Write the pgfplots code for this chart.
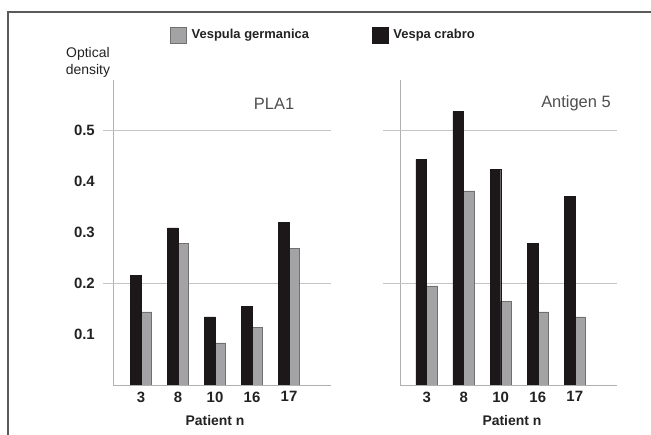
\documentclass[border=0pt]{standalone}
\usepackage{pgfplots}
\pgfplotsset{compat=1.18}
\usepackage{fontspec}
\setmainfont{Liberation Sans}
\definecolor{darkbar}{HTML}{1C1819}
\definecolor{graybar}{HTML}{A3A3A6}
\definecolor{grayedge}{HTML}{707070}
\definecolor{gridgray}{HTML}{C4C4C4}
\definecolor{axisgray}{HTML}{B0B0B0}
\definecolor{framegray}{HTML}{5A5A5A}
\definecolor{txt}{HTML}{222222}
\begin{document}
\begin{tikzpicture}
\path[use as bounding box] (0bp,0bp) rectangle (651bp,435bp);
\draw[framegray, line width=1.6bp] (8bp,0bp) -- (8bp,423bp) -- (651bp,423bp);
\pgfplotsset{
  panel/.style={
    scale only axis, height=305bp, ymin=0, ymax=0.6,
    axis x line*=bottom, axis y line*=left,
    axis line style={draw=axisgray, line width=0.8bp, -},
    xtick={0,1,2,3,4}, xticklabels={3,8,10,16,17},
    major tick length=0pt,
    ybar, bar width=10.7bp,
    xticklabel style={font=\fontsize{15}{17}\selectfont\bfseries, text=txt, inner sep=0pt, anchor=north, yshift=-6.5bp},
    xlabel={Patient n},
    extra y ticks={0.2,0.5}, extra y tick labels={},
    extra y tick style={grid=major, major grid style={draw=gridgray, line width=0.8bp}, tick align=outside, tick style={draw=gridgray, line width=0.8bp}},
    /pgf/number format/assume math mode=true,
  },
  dk/.style={fill=darkbar, draw=darkbar, bar shift=-5.35bp},
  gy/.style={fill=graybar, draw=grayedge, line width=0.5bp, bar shift=5.35bp},
}
\begin{axis}[panel, at={(113bp,50bp)}, anchor=south west, width=218bp,
  xmin=-0.757, xmax=5.135,
  ytick={0.1,0.2,0.3,0.4,0.5},
  yticklabel style={font=\fontsize{15}{17}\selectfont\bfseries, text=txt, inner sep=0pt, anchor=east, xshift=-18bp, /pgf/number format/fixed, /pgf/number format/precision=1},
  extra y tick style={major tick length=10bp},
  xlabel style={font=\fontsize{14}{16}\selectfont\bfseries, text=txt, at={(axis description cs:0.468,0)}, anchor=center, yshift=-36bp},
  ylabel={Optical\\density},
  ylabel style={font=\fontsize{14}{17}\selectfont, text=txt, at={(axis description cs:-0.115,1.059)}, rotate=-90, anchor=center, align=center},
  legend columns=2,
  legend style={draw=none, fill=none, inner sep=0pt, at={(axis description cs:0.2615,1.1475)}, anchor=west,
    font=\fontsize{13}{15}\selectfont\bfseries, text=txt,
    nodes={inner sep=0pt},
    /tikz/every odd column/.append style={column sep=5bp},
    /tikz/every even column/.append style={column sep=63bp}},
  legend image code/.code={\draw[#1] (0bp,-8bp) rectangle (16bp,8bp);},
]
\addplot[gy] coordinates {(0,0.144) (1,0.279) (2,0.083) (3,0.113) (4,0.269)};
\addlegendentry{Vespula germanica}
\addplot[dk] coordinates {(0,0.216) (1,0.309) (2,0.134) (3,0.155) (4,0.320)};
\addlegendentry{Vespa crabro}
\node[font=\fontsize{16.5}{18}\selectfont, text=txt!80] at (rel axis cs:0.739,0.921) {PLA1};
\end{axis}
\begin{axis}[panel, at={(400bp,50bp)}, anchor=south west, width=217bp,
  xmin=-0.72, xmax=5.14,
  ytick=\empty,
  extra y tick style={major tick length=17bp},
  xlabel style={font=\fontsize{14}{16}\selectfont\bfseries, text=txt, at={(axis description cs:0.516,0)}, anchor=center, yshift=-36bp},
]
\addplot[gy] coordinates {(0,0.195) (1,0.382) (2,0.165) (3,0.144) (4,0.134)};
\addplot[dk] coordinates {(0,0.444) (1,0.538) (2,0.424) (3,0.278) (4,0.371)};
\node[font=\fontsize{16.5}{18}\selectfont, text=txt!80] at (rel axis cs:0.811,0.925) {Antigen 5};
\end{axis}
\end{tikzpicture}
\end{document}
